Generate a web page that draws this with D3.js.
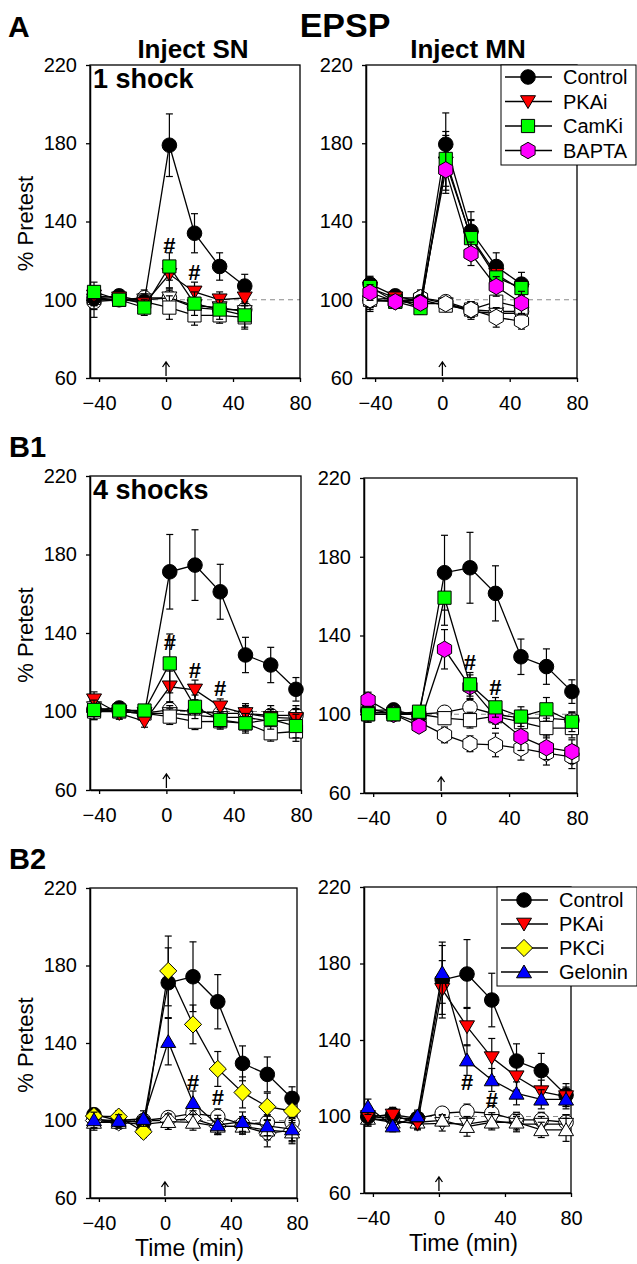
<!DOCTYPE html>
<html><head><meta charset="utf-8">
<script src="https://cdn.jsdelivr.net/npm/d3@7"></script>
<style>body{margin:0;background:#fff} svg{display:block} text{font-family:"Liberation Sans",Arial,sans-serif}</style>
</head><body><svg id="c" width="637" height="1264"></svg>
<script>
// ---------------- DATA ----------------
const times7 = [-43, -28, -13, 2, 17, 32, 47];
const times9 = [-43, -28, -13, 2, 17, 32, 47, 62, 77];
const xTicks = [-40, 0, 40, 80];
const yTicks = [60, 100, 140, 180, 220];
const legendA = ["Control", "PKAi", "CamKi", "BAPTA"];
const legendB2 = ["Control", "PKAi", "PKCi", "Gelonin"];

// Panel A, Inject SN (1 shock)
const aSN_control = [101, 102, 99, 179, 134, 117, 107];
const aSN_control_err = [4, 3, 3, 16, 10, 7, 6];
const aSN_pkai = [102, 101, 98, 113, 104, 100, 101];
const aSN_pkai_err = [4, 3, 3, 7, 5, 4, 4];
const aSN_camki = [104, 100, 96, 117, 98, 95, 92];
const aSN_camki_err = [5, 3, 4, 7, 6, 5, 6];
const aSN_control0 = [99, 100, 101, 101, 96, 95, 95];
const aSN_control0_err = [8, 3, 4, 4, 5, 4, 5];
const aSN_pkai0 = [100, 100, 100, 101, 97, 96, 94];
const aSN_pkai0_err = [5, 3, 3, 5, 4, 4, 5];
const aSN_camki0 = [101, 100, 99, 96, 92, 92, 91];
const aSN_camki0_err = [4, 3, 3, 6, 5, 4, 6];
const aSN_hash_t = [2, 17];
const aSN_hash_v = [128, 114];

// Panel A, Inject MN (1 shock)
const aMN_control = [108, 102, 99, 179.5, 135, 117, 108];
const aMN_control_err = [4, 3, 3, 16, 10, 7, 6];
const aMN_pkai = [106, 101, 96, 170, 132, 113, 105];
const aMN_pkai_err = [4, 3, 3, 14, 9, 6, 5];
const aMN_camki = [106.5, 99, 95.7, 172, 131.5, 111.4, 106];
const aMN_camki_err = [4, 3, 3, 14, 9, 6, 5];
const aMN_bapta = [103.7, 99, 98.3, 166.4, 123.5, 106.8, 98.3];
const aMN_bapta_err = [4, 3, 3, 12, 6, 5, 6];
const aMN_control0 = [100, 101, 101, 99, 95, 94, 94];
const aMN_control0_err = [6, 3, 4, 3, 4, 4, 4];
const aMN_pkai0 = [99, 100, 98, 98, 94, 93, 93];
const aMN_pkai0_err = [4, 3, 3, 3, 4, 5, 5];
const aMN_camki0 = [100, 99, 100, 97, 95, 99, 96];
const aMN_camki0_err = [4, 3, 3, 3, 4, 5, 5];
const aMN_bapta0 = [100, 99, 101, 98, 95, 91, 89];
const aMN_bapta0_err = [4, 3, 3, 3, 4, 5, 4];

// Panel B1, Inject SN (4 shocks)
const b1SN_control = [101, 101.8, 99, 171.2, 174.6, 161, 128.8, 123.7, 111.3];
const b1SN_control_err = [3, 3, 3, 19, 18, 14, 9, 9, 6];
const b1SN_pkai = [106, 99, 95, 112.6, 111, 102.4, 99, 97, 96.5];
const b1SN_pkai_err = [4, 3, 3, 8, 5, 4, 4, 4, 5];
const b1SN_camki = [100.8, 100.5, 100.5, 124.5, 102.4, 95.7, 94, 96, 92.6];
const b1SN_camki_err = [5, 3, 3, 15, 6, 4, 5, 5, 6];
const b1SN_control0 = [101, 100, 99, 101, 100, 99, 99, 98, 98];
const b1SN_control0_err = [4, 3, 3, 4, 4, 4, 5, 5, 5];
const b1SN_pkai0 = [102, 100, 99, 99, 98, 97, 97, 95, 96];
const b1SN_pkai0_err = [4, 3, 3, 4, 4, 4, 4, 5, 5];
const b1SN_camki0 = [100, 100, 99, 97.4, 94.8, 95, 94, 88.9, 89.8];
const b1SN_camki0_err = [4, 3, 3, 4, 4, 4, 4, 4, 5];
const b1SN_hash_t = [2, 17, 32];
const b1SN_hash_v = [135.6, 121.1, 112];

// Panel B1, Inject MN (4 shocks)
const b1MN_control = [102, 102.2, 99, 171.9, 174.4, 161.4, 129.2, 124.2, 111.5];
const b1MN_control_err = [3, 3, 3, 19, 18, 14, 9, 9, 6];
const b1MN_camki = [100, 100, 101.3, 159.2, 115.2, 103.5, 98.8, 102.5, 96.2];
const b1MN_camki_err = [4, 3, 3, 14, 6, 5, 5, 6, 5];
const b1MN_bapta = [107.2, 100, 94, 133, 114, 98.8, 88.6, 83, 81];
const b1MN_bapta_err = [4, 3, 3, 10, 6, 6, 7, 6, 6];
const b1MN_control0 = [101, 101, 100, 101, 103.5, 100, 98, 98, 97];
const b1MN_control0_err = [4, 3, 3, 3, 4, 4, 4, 4, 4];
const b1MN_camki0 = [100, 100, 100, 98, 97, 99, 96, 93, 93];
const b1MN_camki0_err = [4, 3, 3, 3, 4, 4, 5, 5, 5];
const b1MN_bapta0 = [103, 100, 96, 89.5, 85, 84.4, 82.7, 80.2, 78.4];
const b1MN_bapta0_err = [4, 3, 3, 4, 4, 6, 6, 6, 6];
const b1MN_hash_t = [17, 32];
const b1MN_hash_v = [126.7, 114];

// Panel B2, Inject SN (4 shocks)
const b2SN_control = [103, 100, 99, 171.1, 174.2, 161.3, 129.5, 123.8, 111.4];
const b2SN_control_err = [3, 3, 3, 18, 18, 14, 9, 9, 6];
const b2SN_pkci = [102.3, 102, 94.2, 177.2, 149.6, 126.6, 114.5, 107.1, 104.9];
const b2SN_pkci_err = [4, 3, 3, 18, 10, 9, 8, 7, 6];
const b2SN_gelonin = [100.3, 100, 101, 140.7, 109.2, 97.7, 99.4, 97.2, 95.6];
const b2SN_gelonin_err = [4, 3, 4, 12, 6, 5, 5, 5, 6];
const b2SN_control0 = [101, 99, 100, 101.5, 103.7, 102, 98, 99, 99];
const b2SN_control0_err = [4, 3, 3, 3, 4, 4, 4, 4, 4];
const b2SN_pkci0 = [100, 99, 100, 100, 101, 97, 97, 93.4, 95];
const b2SN_pkci0_err = [4, 3, 3, 3, 4, 4, 4, 7, 6];
const b2SN_gelonin0 = [99, 99, 98, 99.4, 99, 97, 97, 95, 94];
const b2SN_gelonin0_err = [4, 3, 3, 4, 4, 4, 4, 5, 6];
const b2SN_hash_t = [17, 32];
const b2SN_hash_v = [120, 112.3];

// Panel B2, Inject MN (4 shocks)
const b2MN_control = [99.9, 101, 99, 171.4, 174.5, 160.9, 129, 124, 111.2];
const b2MN_control_err = [3, 3, 3, 18, 18, 14, 9, 9, 6];
const b2MN_pkai = [100, 100.8, 96.4, 166.5, 147, 130.8, 120.8, 113, 110.4];
const b2MN_pkai_err = [4, 4, 3, 15, 10, 10, 7, 6, 5];
const b2MN_gelonin = [105.1, 95, 100.3, 175.2, 129.5, 119.1, 112.1, 109, 109];
const b2MN_gelonin_err = [4, 3, 3, 16, 8, 6, 6, 5, 5];
const b2MN_control0 = [100, 99, 99, 101.7, 102.5, 101.7, 98.2, 98.2, 97];
const b2MN_control0_err = [4, 3, 3, 3, 4, 4, 4, 4, 4];
const b2MN_pkai0 = [99, 98, 96, 96.4, 96, 98, 96, 96, 96];
const b2MN_pkai0_err = [4, 3, 3, 4, 4, 4, 4, 4, 5];
const b2MN_gelonin0 = [99, 97, 97, 98, 94.7, 97, 97, 93, 93];
const b2MN_gelonin0_err = [4, 3, 3, 3, 5, 4, 4, 4, 6];
const b2MN_hash_t = [17, 32];
const b2MN_hash_v = [118.2, 108.6];

// ---------------- STYLE ----------------
const STYLE = {
  Control: {shape: "circle", fill: "#000000"},
  PKAi: {shape: "triDown", fill: "#ff0000"},
  CamKi: {shape: "square", fill: "#00ff00"},
  BAPTA: {shape: "hexagon", fill: "#ff00ff"},
  PKCi: {shape: "diamond", fill: "#ffff00"},
  Gelonin: {shape: "triUp", fill: "#0000ff"}
};
function shapePath(shape) {
  switch (shape) {
    case "circle": { const r = 7.3; return `M${-r},0A${r},${r} 0 1,0 ${r},0A${r},${r} 0 1,0 ${-r},0Z`; }
    case "square": { const s = 6.6; return `M${-s},${-s}H${s}V${s}H${-s}Z`; }
    case "triDown": return "M-7.5,-5.8L7.5,-5.8L0,7Z";
    case "triUp": return "M-7.5,5.8L7.5,5.8L0,-7Z";
    case "diamond": return "M0,-8.6L8.6,0L0,8.6L-8.6,0Z";
    case "hexagon": {
      const r = 8.2; const pts = d3.range(6).map(i => { const a = (-90 + 60 * i) * Math.PI / 180; return [r * Math.cos(a), r * Math.sin(a)]; });
      return "M" + pts.map(p => p.join(",")).join("L") + "Z";
    }
  }
}

const svg = d3.select("#c");
const X_DOMAIN = [-45.4, 80];

function drawPanel(p) {
  const x = d3.scaleLinear().domain(X_DOMAIN).range([p.x0, p.x1]);
  const y = d3.scaleLinear().domain([60, 220]).range([p.y1, p.y0]);
  const g = svg.append("g");
  // dashed reference
  g.append("line").attr("x1", p.x0).attr("x2", p.x1).attr("y1", y(100)).attr("y2", y(100))
    .attr("stroke", "#8a8a8a").attr("stroke-width", 1).attr("stroke-dasharray", "5,4");
  // frame
  g.append("rect").attr("x", p.x0).attr("y", p.y0).attr("width", p.x1 - p.x0).attr("height", p.y1 - p.y0)
    .attr("fill", "none").attr("stroke", "#000").attr("stroke-width", 1.3);
  const ya = g.append("g").attr("transform", `translate(${p.x0},0)`)
    .call(d3.axisLeft(y).tickValues(yTicks).tickSize(4).tickSizeOuter(0).tickPadding(9));
  const xa = g.append("g").attr("transform", `translate(0,${p.y1})`)
    .call(d3.axisBottom(x).tickValues(xTicks).tickSize(4).tickSizeOuter(0).tickPadding(14));
  [ya, xa].forEach(a => {
    a.selectAll("path").attr("stroke", "#000").attr("stroke-width", 1.5);
    a.selectAll("line").attr("stroke", "#000").attr("stroke-width", 1.3);
    a.selectAll("text").attr("font-size", 20).attr("fill", "#000").attr("font-family", '"Liberation Sans",Arial,sans-serif');
  });
  // stimulus arrow (drawn at time 0)
  const ax = x(0), ab = p.y1 - 2, at = p.y1 - 16;
  g.append("path").attr("d", `M${ax},${ab}V${at}M${ax - 3.5},${at + 5}L${ax},${at}L${ax + 3.5},${at + 5}`)
    .attr("fill", "none").attr("stroke", "#000").attr("stroke-width", 1.3);
  // series
  const times = p.times;
  p.series.forEach(s => {
    const st = STYLE[s.kind];
    const fill = s.open ? "#ffffff" : st.fill;
    const sg = g.append("g");
    sg.append("path").attr("d", d3.line().x((d, i) => x(times[i])).y(d => y(d))(s.v))
      .attr("fill", "none").attr("stroke", "#000").attr("stroke-width", 1.3);
    s.v.forEach((v, i) => {
      const cx = x(times[i]), e = s.e[i];
      sg.append("line").attr("x1", cx).attr("x2", cx).attr("y1", y(v - e)).attr("y2", y(v + e)).attr("stroke", "#000").attr("stroke-width", 1.2);
      [v - e, v + e].forEach(w => sg.append("line").attr("x1", cx - 3.5).attr("x2", cx + 3.5).attr("y1", y(w)).attr("y2", y(w)).attr("stroke", "#000").attr("stroke-width", 1.2));
    });
    s.v.forEach((v, i) => {
      sg.append("path").attr("d", shapePath(st.shape)).attr("transform", `translate(${x(times[i])},${y(v)})`)
        .attr("fill", fill).attr("stroke", "#000").attr("stroke-width", 1);
    });
  });
  // significance marks
  if (p.hashT) p.hashT.forEach((t, i) => {
    g.append("text").attr("x", x(t)).attr("y", y(p.hashV[i])).attr("dy", "0.36em").attr("text-anchor", "middle")
      .attr("font-size", 22).attr("font-weight", "bold").text("#");
  });
  // y label
  if (p.ylabel) g.append("text").attr("transform", `translate(33,${(p.y0 + p.y1) / 2 + 2}) rotate(-90)`)
    .attr("text-anchor", "middle").attr("font-size", 22).text("% Pretest");
  if (p.xlabel) g.append("text").attr("x", (p.x0 + p.x1) / 2 - 4).attr("y", p.y1 + 58).attr("text-anchor", "middle")
    .attr("font-size", 23).text("Time (min)");
  if (p.inner) g.append("text").attr("x", p.x0 + 3).attr("y", p.y0 + 23).attr("font-size", 27).attr("font-weight", "bold").text(p.inner);
  if (p.legend) {
    const L = p.legend;
    g.append("rect").attr("x", L.x).attr("y", L.y).attr("width", L.w).attr("height", L.h)
      .attr("fill", "#fff").attr("stroke", "#000").attr("stroke-width", 1);
    L.names.forEach((n, i) => {
      const cy = L.y + L.r0 + i * L.dy;
      const st = STYLE[n];
      g.append("line").attr("x1", L.x + 4).attr("x2", L.x + 51).attr("y1", cy).attr("y2", cy).attr("stroke", "#000").attr("stroke-width", 1.3);
      g.append("path").attr("d", shapePath(st.shape)).attr("transform", `translate(${L.x + 27},${cy})`)
        .attr("fill", st.fill).attr("stroke", "#000").attr("stroke-width", 1);
      g.append("text").attr("x", L.x + 62).attr("y", cy).attr("dy", "0.36em").attr("font-size", 20).text(n);
    });
  }
}

const S = (kind, v, e, open) => ({kind, v, e, open: !!open});

drawPanel({x0: 90, x1: 300, y0: 65, y1: 378, times: times7, ylabel: true, inner: "1 shock",
  series: [S("Control", aSN_control0, aSN_control0_err, 1), S("PKAi", aSN_pkai0, aSN_pkai0_err, 1), S("CamKi", aSN_camki0, aSN_camki0_err, 1),
    S("Control", aSN_control, aSN_control_err), S("PKAi", aSN_pkai, aSN_pkai_err), S("CamKi", aSN_camki, aSN_camki_err)],
  hashT: aSN_hash_t, hashV: aSN_hash_v});
drawPanel({x0: 366, x1: 577, y0: 65, y1: 378, times: times7,
  series: [S("Control", aMN_control0, aMN_control0_err, 1), S("PKAi", aMN_pkai0, aMN_pkai0_err, 1), S("CamKi", aMN_camki0, aMN_camki0_err, 1), S("BAPTA", aMN_bapta0, aMN_bapta0_err, 1),
    S("Control", aMN_control, aMN_control_err), S("PKAi", aMN_pkai, aMN_pkai_err), S("CamKi", aMN_camki, aMN_camki_err), S("BAPTA", aMN_bapta, aMN_bapta_err)],
  legend: {x: 501, y: 65, w: 135, h: 100, r0: 12, dy: 24.5, names: legendA}});
drawPanel({x0: 90, x1: 301, y0: 476, y1: 790, times: times9, ylabel: true, inner: "4 shocks",
  series: [S("Control", b1SN_control0, b1SN_control0_err, 1), S("PKAi", b1SN_pkai0, b1SN_pkai0_err, 1), S("CamKi", b1SN_camki0, b1SN_camki0_err, 1),
    S("Control", b1SN_control, b1SN_control_err), S("PKAi", b1SN_pkai, b1SN_pkai_err), S("CamKi", b1SN_camki, b1SN_camki_err)],
  hashT: b1SN_hash_t, hashV: b1SN_hash_v});
drawPanel({x0: 364, x1: 577, y0: 478, y1: 793, times: times9,
  series: [S("Control", b1MN_control0, b1MN_control0_err, 1), S("CamKi", b1MN_camki0, b1MN_camki0_err, 1), S("BAPTA", b1MN_bapta0, b1MN_bapta0_err, 1),
    S("Control", b1MN_control, b1MN_control_err), S("BAPTA", b1MN_bapta, b1MN_bapta_err), S("CamKi", b1MN_camki, b1MN_camki_err)],
  hashT: b1MN_hash_t, hashV: b1MN_hash_v});
drawPanel({x0: 90, x1: 297, y0: 888, y1: 1198, times: times9, ylabel: true, xlabel: true,
  series: [S("Control", b2SN_control0, b2SN_control0_err, 1), S("PKCi", b2SN_pkci0, b2SN_pkci0_err, 1), S("Gelonin", b2SN_gelonin0, b2SN_gelonin0_err, 1),
    S("Control", b2SN_control, b2SN_control_err), S("PKCi", b2SN_pkci, b2SN_pkci_err), S("Gelonin", b2SN_gelonin, b2SN_gelonin_err)],
  hashT: b2SN_hash_t, hashV: b2SN_hash_v});
drawPanel({x0: 364, x1: 571, y0: 887, y1: 1193, times: times9, xlabel: true,
  series: [S("Control", b2MN_control0, b2MN_control0_err, 1), S("PKAi", b2MN_pkai0, b2MN_pkai0_err, 1), S("Gelonin", b2MN_gelonin0, b2MN_gelonin0_err, 1),
    S("Control", b2MN_control, b2MN_control_err), S("PKAi", b2MN_pkai, b2MN_pkai_err), S("Gelonin", b2MN_gelonin, b2MN_gelonin_err)],
  hashT: b2MN_hash_t, hashV: b2MN_hash_v,
  legend: {x: 497, y: 887, w: 140, h: 99, r0: 13, dy: 24, names: legendB2}});

// titles and panel letters
const T = (x, y, s, size, anchor) => svg.append("text").attr("x", x).attr("y", y).attr("font-size", size)
  .attr("font-weight", "bold").attr("text-anchor", anchor || "start").text(s);
T(8, 37, "A", 30);
T(345, 37, "EPSP", 34, "middle");
T(193, 58, "Inject SN", 26, "middle");
T(468, 58, "Inject MN", 26, "middle");
T(9, 457, "B1", 29);
T(9, 869, "B2", 29);
</script></body></html>
